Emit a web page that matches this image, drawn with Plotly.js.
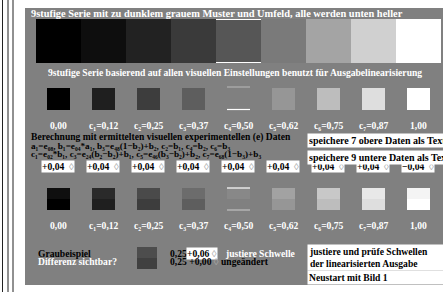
<!DOCTYPE html>
<html><head><meta charset="utf-8">
<script src="https://cdn.plot.ly/plotly-3.0.1.min.js"></script>
<style>html,body{margin:0;padding:0;background:#fff;overflow:hidden}#c{width:443px;height:292px}</style>
</head><body><div id="c"></div>
<script>
// ---- data ----
const stripLevels   = [0, 14, 34, 58, 86, 122, 164, 208, 255];
const row1Levels    = [0, 31, 61, 94, 128, 150, 189, 222, 255];
const row2TopLevels = [15, 42, 74, 108, 136, 162, 200, 232, 244];
const row2BotLevels = [0, 31, 61, 94, 128, 150, 189, 222, 255];
const stepValues    = [0.00, 0.12, 0.25, 0.37, 0.50, 0.62, 0.75, 0.87, 1.00];
const stepNames     = ["", "c₁=", "c₂=", "c₃=", "c₄=", "c₅=", "c₆=", "c₇=", ""];
const adjustValues  = [0.04, 0.04, 0.04, 0.04, 0.04, 0.04, 0.04, 0.04, -0.04];
const sampleLevels  = [77, 64];   // top half, bottom half of gray example
const sampleBase    = 0.25;
const sampleDelta   = [0.06, 0.00];

// ---- layout helpers ----
const cx = stepValues.map((_, i) => 58.5 + 45 * i);
const g = v => `rgb(${v},${v},${v})`;
const fmt = v => (v < 0 ? "−" : "+") + Math.abs(v).toFixed(2).replace(".", ",");
const fmtPlain = v => v.toFixed(2).replace(".", ",");
const FONT = "Liberation Serif, Times New Roman, serif";
const midIdx = stepValues.indexOf(0.50);

const traces = [];
function barRow(levels, top, h, w) {
  traces.push({type: "bar", x: cx, y: levels.map(() => h), base: levels.map(() => top),
    width: levels.map(() => w), marker: {color: levels.map(g), line: {width: 0}},
    hoverinfo: "skip", showlegend: false});
}
barRow(stripLevels, 19, 44, 45);
barRow(row1Levels, 88, 22, 23);
barRow(row2TopLevels, 188, 11, 23);
barRow(row2BotLevels, 199, 11, 23);
// gray example
traces.push({type: "bar", x: [147, 147], y: [11, 11], base: [247, 258], width: [20, 20],
  marker: {color: sampleLevels.map(g), line: {width: 0}}, hoverinfo: "skip", showlegend: false});

// middle-step marker lines
function hline(x0, x1, y, color) {
  traces.push({type: "scatter", mode: "lines", x: [x0, x1], y: [y, y],
    line: {color: color, width: 1.2}, hoverinfo: "skip", showlegend: false});
}
const mx = cx[midIdx];
hline(mx - 22.5, mx + 22.5, 19.5, "#fff");
hline(mx - 22.5, mx + 22.5, 62.5, "#fff");
hline(mx - 11.5, mx + 11.5, 87, "#b0b0b0");
hline(mx - 11.5, mx + 11.5, 109.5, "#fff");
hline(mx - 11.5, mx + 11.5, 188, "#fff");
hline(mx - 11.5, mx + 11.5, 210, "#c0c0c0");

// ---- annotations ----
const ann = [];
function txt(x, y, text, color, opts, size) {
  ann.push(Object.assign({x: x, y: y, xref: "x", yref: "y", text: text, showarrow: false,
    xanchor: "left", yanchor: "middle", font: {family: FONT, size: size || 10, color: color}}, opts || {}));
}
const spin = '<span style="color:#a8a8a8">◊</span>';
txt(29, 13, "<b>9stufige Serie mit zu dunklem grauem Muster und Umfeld, alle werden unten heller</b>", "#fff", {}, 10.4);
txt(46, 72, "<b>9stufige Serie basierend auf allen visuellen Einstellungen benutzt für Ausgabelinearisierung</b>", "#fff", {}, 9.6);
stepValues.forEach((v, i) => {
  txt(cx[i], 125, "<b>" + stepNames[i] + fmtPlain(v) + "</b>", "#fff", {xanchor: "center"}, 9.6);
  txt(cx[i], 225, "<b>" + stepNames[i] + fmtPlain(v) + "</b>", "#fff", {xanchor: "center"}, 9.6);
});
txt(29, 137, "<b>Berechnung mit ermittelten visuellen experimentellen (e) Daten</b>", "#000", {}, 9.6);
txt(29, 145.5, "<b>a₁=e₀₈, b₁=e₀₄*a₁, b₃=e₄₈(1−b₂)+b₂, c₂=b₁, c₄=b₂, c₆=b₃</b>", "#000", {}, 9.2);
txt(29, 154, "<b>c₁=e₀₂*b₁, c₃=e₂₄(b₂−b₂)+b₁, c₅=e₄₆(b₃−b₂)+b₂, c₇=e₆₈(1−b₃)+b₃</b>", "#000", {}, 9.2);
adjustValues.forEach((v, i) => {
  txt(cx[i] - 1, 166, "<b>" + fmt(v) + "</b>  " + spin, "#000", {xanchor: "center", bgcolor: "#fff", borderpad: 0}, 9.6);
});
txt(307, 140, "<b>speichere 7 obere Daten als Text</b> ", "#000", {bgcolor: "#fff", borderpad: 1}, 10);
txt(307, 157, "<b>speichere 9 untere Daten als Text</b> ", "#000", {bgcolor: "#fff", borderpad: 1}, 10);
txt(36, 253, "<b>Graubeispiel</b>", "#000", {}, 9.6);
txt(36, 261.5, "<b>Differenz sichtbar?</b>", "#fff", {}, 9.6);
txt(168, 253, "<b>" + fmtPlain(sampleBase) + "</b>", "#000", {}, 9.6);
txt(186, 253, "<b>" + fmt(sampleDelta[0]) + "</b> " + spin, "#000", {bgcolor: "#fff", borderpad: 0}, 9.6);
txt(223, 253, "<b>justiere Schwelle</b>", "#fff", {}, 9.6);
txt(168, 261.5, "<b>" + fmtPlain(sampleBase) + " " + fmt(sampleDelta[1]) + "</b> " + spin + " <b>ungeändert</b>", "#000", {}, 9.6);
txt(307, 257, "<b>justiere und prüfe Schwellen<br>der linearisierten Ausgabe</b>                    ", "#000", {bgcolor: "#fff", borderpad: 1, align: "left"}, 9.6);
txt(307, 277.5, "<b>Neustart mit Bild 1</b>                                         ", "#000", {bgcolor: "#fff", borderpad: 1}, 9.6);

// ---- background shapes ----
const shapes = [
  {type: "rect", xref: "x", yref: "y", x0: 25, x1: 443, y0: 8, y1: 285, fillcolor: "#808080", line: {width: 0}, layer: "below"},
];
[2.5, 8, 13].forEach(x => shapes.push({type: "line", xref: "x", yref: "y", x0: x, x1: x, y0: 0, y1: 292, line: {color: "#222", width: 1}, layer: "below"}));

const layout = {
  width: 443, height: 292, margin: {l: 0, r: 0, t: 0, b: 0},
  paper_bgcolor: "#fff", plot_bgcolor: "#fff", barmode: "overlay", bargap: 0,
  xaxis: {range: [0, 443], visible: false, fixedrange: true},
  yaxis: {range: [292, 0], visible: false, fixedrange: true},
  shapes: shapes, annotations: ann, showlegend: false
};
Plotly.newPlot("c", traces, layout, {staticPlot: true, displayModeBar: false});
</script></body></html>
